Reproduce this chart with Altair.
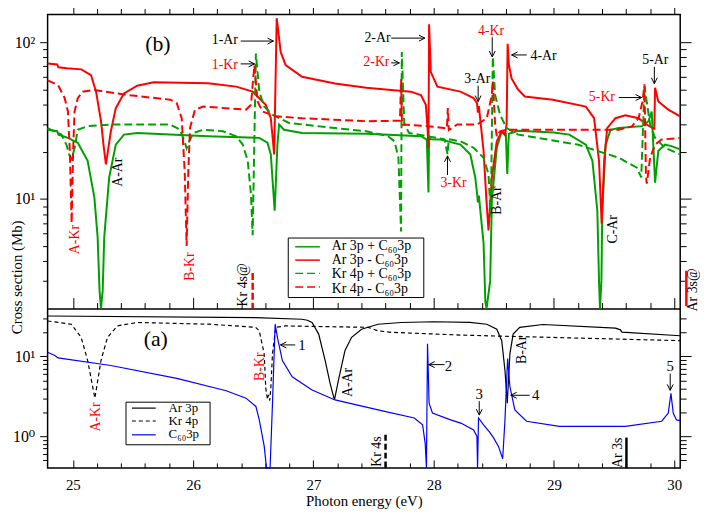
import altair as alt
import pandas as pd

FONT = "'Liberation Serif', 'Times New Roman', 'DejaVu Serif', serif"
GREEN = "#00a000"
RED = "#ff0000"
BLUE = "#0000ff"

# ---------------- panel (b): (E [eV], cross section [Mb]) ----------------
b_ar_plus = [(24.79, 27.6), (24.87, 27.0), (24.88, 25.7), (24.959, 24.5), (25.041, 22.8), (25.123, 17.5),
             (25.179, 10.2), (25.206, 5.7), (25.222, 2.6), (25.234, 1.6), (25.248, 2.6), (25.261, 5.7),
             (25.302, 13.7), (25.357, 22.2), (25.425, 25.7), (25.535, 26.3), (26.125, 25.1), (26.55, 24.5),
             (26.618, 22.8), (26.646, 19.2), (26.678, 8.4), (26.701, 22.2), (26.715, 29.8), (26.756, 27.6),
             (26.906, 26.3), (27.44, 26.0), (27.894, 25.1), (27.943, 23.9), (27.957, 11.0), (27.962, 25.0),
             (27.976, 24.0), (28.058, 23.9), (28.223, 22.2), (28.305, 19.2), (28.346, 13.7), (28.36, 11.0),
             (28.368, 9.5), (28.376, 10.5), (28.415, 5.2), (28.43, 2.2), (28.44, 1.6), (28.47, 3.0),
             (28.484, 9.75), (28.525, 21.2), (28.566, 27.0), (28.600, 26.0), (28.612, 14.4), (28.625, 26.0),
             (28.703, 27.2), (29.0, 26.5), (29.128, 25.7), (29.265, 22.2), (29.32, 17.5), (29.361, 8.4),
             (29.375, 3.0), (29.383, 1.6), (29.395, 3.0), (29.402, 8.4), (29.43, 22.2), (29.471, 27.6),
             (29.539, 28.3), (29.731, 29.1), (29.786, 31.3), (29.813, 36.1), (29.841, 12.7), (29.868, 20.2),
             (29.923, 22.2), (29.978, 21.7), (30.05, 20.7)]

b_ar_minus = [(24.79, 73), (24.87, 72), (24.88, 69), (24.95, 68), (25.07, 67), (25.151, 61.6), (25.193, 48.3),
              (25.234, 31.3), (25.255, 22), (25.275, 16.6), (25.295, 21), (25.316, 27), (25.357, 37.9),
              (25.425, 47.1), (25.535, 52.7), (25.672, 55.4), (26.125, 54.6), (26.358, 52), (26.495, 48.3),
              (26.604, 39.8), (26.646, 32.7), (26.674, 19.2), (26.695, 142), (26.728, 86.5), (26.769, 71.3),
              (26.906, 60.1), (27.18, 54.5), (27.44, 51.2), (27.81, 48.3), (27.894, 46), (27.935, 39.8),
              (27.949, 28.3), (27.957, 21.2), (27.962, 130), (27.976, 64.6), (28.031, 52), (28.223, 48.3),
              (28.332, 43.9), (28.36, 41), (28.368, 35.5), (28.376, 39), (28.415, 20.2), (28.44, 9.5),
              (28.456, 6.3), (28.484, 13.7), (28.525, 23.3), (28.566, 27), (28.593, 25.5), (28.607, 30),
              (28.615, 97.5), (28.625, 72), (28.648, 58.6), (28.70, 50), (28.758, 45), (28.991, 42.9),
              (29.265, 38.8), (29.334, 32.7), (29.375, 17.5), (29.397, 6.95), (29.418, 17.5), (29.443, 28.3),
              (29.512, 32.7), (29.594, 34.1), (29.704, 32.7), (29.772, 29.8), (29.813, 28.5), (29.835, 28),
              (29.841, 51.2), (29.868, 41.8), (29.951, 37.1), (30.05, 33.6)]

b_kr_plus = [(24.79, 28.3), (24.905, 25.7), (24.946, 22.2), (24.972, 19), (24.99, 18), (25.014, 21),
             (25.041, 27.6), (25.123, 29.1), (25.316, 29.8), (25.81, 29.8), (25.892, 27.6), (25.93, 23),
             (25.946, 21), (25.965, 23), (26.001, 26.3), (26.084, 27.6), (26.248, 27), (26.358, 25.1),
             (26.413, 22.2), (26.454, 17.5), (26.481, 10.7), (26.495, 5.86), (26.522, 84.4), (26.55, 48.3),
             (26.591, 38.8), (26.66, 34.4), (26.797, 30.5), (27.18, 28.3), (27.44, 27), (27.62, 25.1),
             (27.674, 23.3), (27.707, 18.3), (27.729, 6.2), (27.735, 86.5), (27.756, 29.8), (27.797, 26.3),
             (27.949, 25.1), (28.09, 24), (28.116, 19.2), (28.125, 24), (28.223, 23.3), (28.332, 21.2),
             (28.415, 18.3), (28.456, 14.4), (28.475, 7.7), (28.492, 80.4), (28.511, 46), (28.552, 34.4),
             (28.607, 28.3), (28.703, 25.7), (29.196, 22.2), (29.539, 18.3), (29.69, 15.8), (29.726, 13.7),
             (29.753, 52), (29.80, 29.8), (29.841, 24.5), (29.923, 21.2), (30.05, 19.2)]

b_kr_minus = [(24.79, 57), (24.877, 53.2), (24.932, 43.9), (24.959, 36.1), (24.975, 20), (24.99, 7),
              (25.002, 20), (25.014, 36), (25.041, 43.9), (25.082, 48.3), (25.179, 49.5), (25.453, 46),
              (25.81, 42.9), (25.864, 40.8), (25.905, 32.7), (25.93, 15), (25.946, 5), (25.96, 15),
              (25.974, 28.3), (26.015, 37), (26.084, 38.8), (26.44, 37.1), (26.481, 39.8), (26.509, 71),
              (26.536, 41.8), (26.577, 36.1), (26.687, 33.6), (26.906, 32.7), (27.44, 31.3), (27.72, 31.5),
              (27.729, 58), (27.737, 29.5), (27.756, 29.8), (27.949, 29.1), (28.085, 28.3), (28.11, 28),
              (28.118, 38), (28.126, 27.5), (28.196, 29.8), (28.36, 29.8), (28.442, 32.7), (28.484, 46),
              (28.492, 56), (28.511, 30), (28.525, 25), (28.552, 27), (28.607, 27.6), (28.758, 27.6),
              (29.539, 27.6), (29.649, 29), (29.704, 32.7), (29.737, 41.8), (29.753, 53.8), (29.765, 14),
              (29.772, 12.5), (29.80, 18.3), (29.841, 22.2), (29.896, 23.9), (30.05, 24.5)]

# ---------------- panel (a) ----------------
a_ar3p = [(24.79, 32.2), (26.52, 30.8), (26.906, 29.3), (26.95, 28.5), (26.989, 26.7), (27.044, 19.1),
          (27.098, 8.9), (27.139, 4.6), (27.175, 2.85), (27.208, 5.0), (27.263, 11.9), (27.318, 17.4),
          (27.40, 22), (27.537, 25.4), (27.729, 26.7), (28.0, 27.3), (28.3, 26.8), (28.442, 25.4),
          (28.525, 22), (28.566, 15.8), (28.593, 6.7), (28.612, 2.6), (28.634, 10.8), (28.661, 19.1),
          (28.716, 23.2), (28.908, 25.2), (29.512, 22.7), (29.553, 21.6), (29.565, 20.2), (30.05, 18.2)]

a_kr4p = [(24.79, 27.9), (24.987, 25.4), (25.069, 17.4), (25.123, 8.9), (25.183, 3.0), (25.234, 8.9),
          (25.288, 17.4), (25.37, 24.2), (25.535, 26.7), (26.139, 25.4), (26.52, 23.2), (26.55, 21),
          (26.591, 10.8), (26.604, 4), (26.618, 2.9), (26.627, 3.3), (26.637, 2.8), (26.646, 4),
          (26.66, 10.8), (26.687, 23.2), (26.769, 24.2), (27.455, 23.2), (27.537, 21), (27.647, 20.1),
          (28.25, 18.5), (30.05, 15.8)]

a_c60 = [(24.79, 11.3), (24.85, 10.3), (24.877, 9.6), (25.316, 7.7), (25.864, 5.3), (26.275, 3.72),
         (26.44, 3.0), (26.522, 2.36), (26.55, 1.6), (26.591, 0.75), (26.61, 0.38), (26.64, 0.38),
         (26.66, 2.6), (26.682, 25.4), (26.701, 17.4), (26.742, 8.9), (26.824, 5.55), (26.989, 3.8),
         (27.18, 2.85), (27.592, 2.05), (27.839, 1.69), (27.908, 1.39), (27.93, 0.8), (27.94, 0.38),
         (27.949, 14.4), (27.962, 2.6), (27.99, 1.95), (28.141, 1.6), (28.23, 1.45), (28.332, 1.2),
         (28.36, 0.99), (28.365, 0.38), (28.373, 1.69), (28.415, 1.39), (28.47, 1.1), (28.497, 0.96),
         (28.538, 0.75), (28.574, 0.52), (28.593, 1.6), (28.615, 9.4), (28.634, 4.2), (28.675, 2.14),
         (28.772, 1.54), (29.046, 1.33), (29.594, 1.33), (29.896, 1.54), (29.951, 1.95), (29.973, 3.45),
         (29.992, 1.95), (30.019, 1.6), (30.05, 1.57)]

# ---------------- ticks ----------------
x_major = [25, 26, 27, 28, 29, 30]
x_minor = [25.2, 25.4, 25.6, 25.8, 26.2, 26.4, 26.6, 26.8, 27.2, 27.4, 27.6, 27.8,
           28.2, 28.4, 28.6, 28.8, 29.2, 29.4, 29.6, 29.8]
yb_major = [10, 100]
yb_minor = [3, 4, 5, 6, 7, 8, 9, 20, 30, 40, 50, 60, 70, 80, 90]
ya_major = [1, 10]
ya_minor = [0.5, 0.6, 0.7, 0.8, 0.9, 2, 3, 4, 5, 6, 7, 8, 9, 20, 30]

# ---------------- annotations ----------------
b_labels = [("(b)", 25.707, 97.1, "black", 0, 22),
            ("1-Ar", 26.264, 103, "black", 0, 14), ("1-Kr", 26.264, 71.6, RED, 0, 14),
            ("2-Ar", 27.533, 106, "black", 0, 14), ("2-Kr", 27.524, 74.7, RED, 0, 14),
            ("3-Ar", 28.363, 58.4, "black", 0, 14), ("4-Kr", 28.478, 117, RED, 0, 14),
            ("4-Ar", 28.914, 81.6, "black", 0, 14), ("3-Kr", 28.165, 12.7, RED, 0, 14),
            ("5-Ar", 29.843, 76.9, "black", 0, 14), ("5-Kr", 29.399, 44.9, RED, 0, 14),
            ("A-Kr", 25.022, 5.5, RED, 270, 14), ("A-Ar", 25.377, 14.8, "black", 270, 14),
            ("B-Kr", 25.977, 3.7, RED, 270, 14), ("B-Ar", 28.527, 9.76, "black", 270, 14),
            ("C-Ar", 29.49, 6.4, "black", 270, 14), ("Kr 4s@", 26.413, 2.83, "black", 270, 14),
            ("Ar 3s@", 30.156, 2.63, "black", 270, 14)]
b_arrows = [(26.396, 101.5, 26.668, 101.5, 0), (26.396, 72.6, 26.511, 72.6, 0),
            (27.647, 106, 27.927, 106, 0), (27.647, 73.7, 27.715, 73.7, 0),
            (28.37, 52.7, 28.37, 41.8, 90), (28.487, 107.5, 28.487, 80.4, 90),
            (28.774, 82.8, 28.648, 82.8, 180), (28.115, 14.2, 28.115, 18.8, 270),
            (29.835, 69.5, 29.835, 54.3, 90), (29.539, 44.3, 29.729, 44.3, 0)]
a_labels = [("(a)", 25.689, 16.6, "black", 0, 22),
            ("A-Kr", 25.195, 1.74, RED, 270, 14), ("B-Kr", 26.553, 7.45, RED, 270, 14),
            ("A-Ar", 27.285, 4.72, "black", 270, 14), ("B-Ar", 28.733, 12.1, "black", 270, 14),
            ("1", 26.905, 13.96, "black", 0, 15), ("2", 28.124, 7.67, "black", 0, 15),
            ("3", 28.379, 3.35, "black", 0, 15), ("4", 28.848, 3.26, "black", 0, 15),
            ("5", 29.967, 7.67, "black", 0, 15),
            ("Kr 4s", 27.532, 0.64, "black", 270, 14), ("Ar 3s", 29.53, 0.62, "black", 270, 14)]
a_arrows = [(26.849, 13.96, 26.726, 13.96, 180), (28.091, 7.9, 27.959, 7.9, 180),
            (28.379, 2.75, 28.379, 1.84, 90), (28.798, 3.26, 28.641, 3.26, 180),
            (29.967, 6.1, 29.967, 3.76, 90)]
# threshold bars: (E, from, to, colour)
b_bars_dashed = [(26.495, 3.37, 2.0, RED)]
b_bars_solid = [(30.101, 3.48, 2.07, RED)]
a_bars_dashed = [(27.6, 1.04, 0.4, "black")]
a_bars_solid = [(29.603, 0.96, 0.4, "black")]

# legends: box (E1, E2, v1, v2); rows (label, colour, dashed, line y, text y)
b_leg_box = [(26.791, 27.918, 5.63, 2.35)]
b_leg_line = (26.849, 27.054, 27.153)
b_leg_rows = [("Ar 3p + C\u2086\u20803p", GREEN, False, 4.95, 5.04),
              ("Ar 3p - C\u2086\u20803p", RED, False, 4.07, 4.07),
              ("Kr 4p + C\u2086\u20803p", GREEN, True, 3.35, 3.30),
              ("Kr 4p - C\u2086\u20803p", RED, True, 2.74, 2.67)]
a_leg_box = [(25.442, 26.141, 2.67, 0.78)]
a_leg_line = (25.491, 25.689, 25.796)
a_leg_rows = [("Ar 3p", "black", False, 2.25, 2.25),
              ("Kr 4p", "black", True, 1.55, 1.55),
              ("C\u2086\u20803p", BLUE, False, 1.04, 1.07)]

# ---------------- scales & axes ----------------
XS = alt.Scale(domain=[24.79, 30.05], nice=False, zero=False)
YT = alt.Scale(type="log", domain=[2, 150], range=[297, 0], nice=False, clamp=True)
YA = alt.Scale(type="log", domain=[0.4, 40], range=[458, 297], nice=False, clamp=True)


def tick_axis(orient, values, size, offset=0, domain=False):
    kw = dict(orient=orient, values=values, tickSize=size, labels=False, grid=False,
              domain=domain, title=None, tickColor="black", tickWidth=1)
    if offset:
        kw["offset"] = offset
    if domain:
        kw["domainColor"] = "black"
        kw["domainWidth"] = 1.5
    return alt.Axis(**kw)


ax_top_major = tick_axis("top", x_major, 11)
ax_top_minor = tick_axis("top", x_minor, 6)
ax_mid_major = tick_axis("top", x_major, 11, offset=-297, domain=True)
ax_mid_minor = tick_axis("top", x_minor, 6, offset=-297)
ax_bot_major = tick_axis("top", x_major, 8, offset=-458)
ax_bot_minor = tick_axis("top", x_minor, 5, offset=-458)
ax_bot_labels = alt.Axis(orient="bottom", values=x_major, ticks=False, tickSize=0, labelPadding=10,
                         labelFont=FONT, labelFontSize=15, labelColor="black", domain=False, grid=False,
                         format="d", title="Photon energy (eV)", titleFont=FONT, titleFontSize=15,
                         titleFontWeight="normal", titleColor="black", titleY=38,
                         titleBaseline="alphabetic")
ax_yt_left_major = alt.Axis(orient="left", values=yb_major, tickSize=8, tickColor="black", grid=False,
                            domain=False, labelFont=FONT, labelFontSize=16, labelColor="black",
                            labelPadding=5,
                            labelExpr="datum.value >= 100 ? '10\u00b2' : '10\u00b9'",
                            title="Cross section (Mb)", titleFont=FONT, titleFontSize=15,
                            titleFontWeight="normal", titleColor="black", titleX=-31, titleY=265,
                            titleAlign="center", titleBaseline="middle", titleAngle=270)
ax_yt_left_minor = tick_axis("left", yb_minor, 5)
ax_yt_right_major = tick_axis("right", yb_major, 11)
ax_yt_right_minor = tick_axis("right", yb_minor, 6)
ax_ya_left_major = alt.Axis(orient="left", values=ya_major, tickSize=8, tickColor="black", grid=False,
                            domain=False, labelFont=FONT, labelFontSize=16, labelColor="black",
                            labelPadding=5,
                            labelExpr="datum.value >= 10 ? '10\u00b9' : '10\u2070'", title=None)
ax_ya_left_minor = tick_axis("left", ya_minor, 5)
ax_ya_right_major = tick_axis("right", ya_major, 11)
ax_ya_right_minor = tick_axis("right", ya_minor, 6)


def line(pts, color, width, ys, xaxis, yaxis, dash=None):
    df = pd.DataFrame(pts, columns=["E", "v"])
    kw = dict(color=color, strokeWidth=width)
    if dash:
        kw["strokeDash"] = dash
    return alt.Chart(df).mark_line(**kw).encode(
        x=alt.X("E:Q", scale=XS, axis=xaxis),
        y=alt.Y("v:Q", scale=ys, axis=yaxis))


def texts(rows, ys):
    df = pd.DataFrame(rows, columns=["t", "E", "v", "col", "ang", "sz"])
    return alt.Chart(df).mark_text(font=FONT, align="center", baseline="middle").encode(
        x=alt.X("E:Q", scale=XS, axis=None), y=alt.Y("v:Q", scale=ys, axis=None),
        text="t:N", color=alt.Color("col:N", scale=None),
        angle=alt.Angle("ang:Q", scale=None), size=alt.Size("sz:Q", scale=None))


CHEVRON = "M-1,-0.5L0,0L-1,0.5"


def arrows(rows, ys):
    df = pd.DataFrame(rows, columns=["E1", "v1", "E2", "v2", "ang"])
    shaft = alt.Chart(df).mark_rule(color="black", strokeWidth=1).encode(
        x=alt.X("E1:Q", scale=XS, axis=None), x2="E2:Q",
        y=alt.Y("v1:Q", scale=ys, axis=None), y2="v2:Q")
    head = alt.Chart(df).mark_point(shape=CHEVRON, filled=False, color="black", strokeWidth=1,
                                    size=144, opacity=1).encode(
        x=alt.X("E2:Q", scale=XS, axis=None), y=alt.Y("v2:Q", scale=ys, axis=None),
        angle=alt.Angle("ang:Q", scale=None))
    return [shaft, head]


def bars(rows, ys, dash=None, yaxis=None):
    df = pd.DataFrame(rows, columns=["E", "v1", "v2", "col"])
    kw = dict(strokeWidth=2.5)
    if dash:
        kw["strokeDash"] = dash
    return alt.Chart(df).mark_rule(**kw).encode(
        x=alt.X("E:Q", scale=XS, axis=None), y=alt.Y("v1:Q", scale=ys, axis=yaxis), y2="v2:Q",
        color=alt.Color("col:N", scale=None))


def legend(box, geom, rows, ys, fsize, lw, dash):
    bdf = pd.DataFrame(box, columns=["E1", "E2", "v1", "v2"])
    rect = alt.Chart(bdf).mark_rect(fill="white", stroke="black", strokeWidth=1).encode(
        x=alt.X("E1:Q", scale=XS, axis=None), x2="E2:Q",
        y=alt.Y("v1:Q", scale=ys, axis=None), y2="v2:Q")
    df = pd.DataFrame(rows, columns=["t", "col", "dashed", "ly", "ty"])
    df["E1"], df["E2"], df["Et"] = geom
    out = [rect]
    for flag in (False, True):
        sub = df[df["dashed"] == flag]
        kw = dict(strokeWidth=lw)
        if flag:
            kw["strokeDash"] = dash
        out.append(alt.Chart(sub).mark_rule(**kw).encode(
            x=alt.X("E1:Q", scale=XS, axis=None), x2="E2:Q",
            y=alt.Y("ly:Q", scale=ys, axis=None), color=alt.Color("col:N", scale=None)))
    out.append(alt.Chart(df).mark_text(font=FONT, fontSize=fsize, align="left", baseline="middle",
                                       color="black").encode(
        x=alt.X("Et:Q", scale=XS, axis=None), y=alt.Y("ty:Q", scale=ys, axis=None), text="t:N"))
    return out


layers = [
    line(b_ar_plus, GREEN, 2, YT, ax_top_major, ax_yt_left_major),
    line(b_ar_minus, RED, 2, YT, ax_top_minor, ax_yt_left_minor),
    line(b_kr_plus, GREEN, 2, YT, ax_mid_major, ax_yt_right_major, dash=[8, 4]),
    line(b_kr_minus, RED, 2, YT, ax_mid_minor, ax_yt_right_minor, dash=[8, 4]),
    line(a_ar3p, "black", 1.2, YA, ax_bot_labels, ax_ya_left_major),
    line(a_kr4p, "black", 1.2, YA, ax_bot_major, ax_ya_left_minor, dash=[4, 3]),
    line(a_c60, BLUE, 1.2, YA, ax_bot_minor, ax_ya_right_major),
    bars(a_bars_solid, YA, yaxis=ax_ya_right_minor),
    bars(a_bars_dashed, YA, dash=[6, 3]),
    bars(b_bars_solid, YT),
    bars(b_bars_dashed, YT, dash=[7, 3]),
    texts(b_labels, YT),
    texts(a_labels, YA),
]
layers += arrows(b_arrows, YT) + arrows(a_arrows, YA)
layers += legend(b_leg_box, b_leg_line, b_leg_rows, YT, 14, 1.5, [8, 4])
layers += legend(a_leg_box, a_leg_line, a_leg_rows, YA, 13, 1.2, [4, 3])

chart = alt.layer(*layers).resolve_scale(
    x="independent", y="independent"
).resolve_axis(
    x="independent", y="independent"
).properties(
    width=639, height=458,
    padding={"left": 40, "top": 4, "right": 20, "bottom": 40},
    autosize=alt.AutoSizeParams(type="none"),
).configure_view(
    stroke="black", strokeWidth=1.5
).configure_text(font=FONT)

chart.save("out.html", embed_options={"renderer": "svg", "actions": False})
